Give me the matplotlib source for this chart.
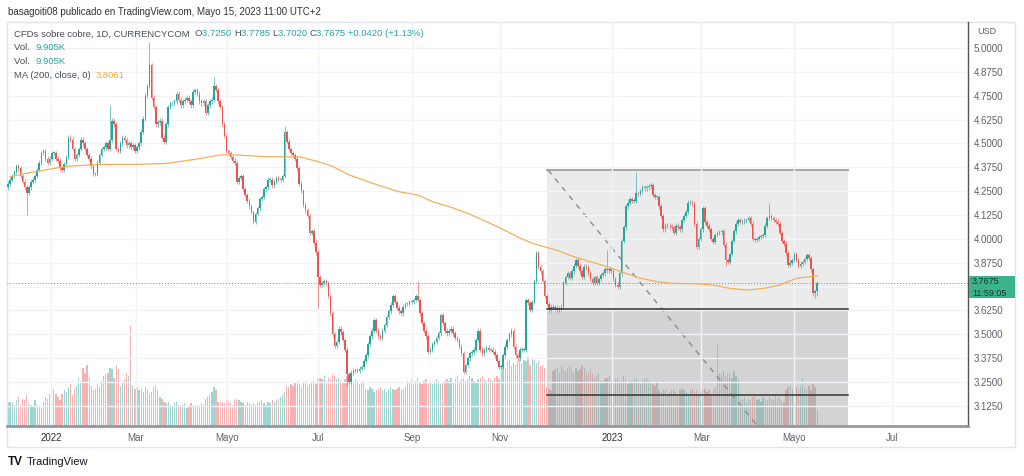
import numpy as np
import matplotlib
matplotlib.use("Agg")
import matplotlib.pyplot as plt
from matplotlib.patches import Rectangle

# daily closes, copper CFD (bar index 0 = early Dec 2021)
closes = [
    4.29, 4.31, 4.33, 4.35, 4.38, 4.37, 4.33, 4.30, 4.27, 4.24,
    4.27, 4.30, 4.31, 4.33, 4.36, 4.40, 4.45, 4.46, 4.42, 4.40,
    4.42, 4.45, 4.45, 4.42, 4.41, 4.37, 4.36, 4.39, 4.43, 4.53,
    4.52, 4.47, 4.42, 4.44, 4.47, 4.52, 4.50, 4.47, 4.44, 4.42,
    4.38, 4.34, 4.34, 4.40, 4.44, 4.47, 4.48, 4.50, 4.47, 4.52,
    4.62, 4.60, 4.47, 4.46, 4.50, 4.53, 4.52, 4.49, 4.50, 4.48,
    4.49, 4.46, 4.48, 4.50, 4.56, 4.63, 4.75, 4.80, 4.91, 4.74,
    4.69, 4.60, 4.61, 4.62, 4.53, 4.51, 4.60, 4.69, 4.71, 4.71,
    4.72, 4.76, 4.73, 4.70, 4.72, 4.73, 4.74, 4.72, 4.70, 4.77,
    4.78, 4.76, 4.72, 4.71, 4.72, 4.66, 4.70, 4.72, 4.73, 4.80,
    4.78, 4.72, 4.69, 4.60, 4.54, 4.46, 4.45, 4.43, 4.41, 4.40,
    4.30, 4.32, 4.33, 4.26, 4.23, 4.20, 4.17, 4.14, 4.09, 4.13,
    4.16, 4.21, 4.22, 4.26, 4.27, 4.31, 4.31, 4.28, 4.30, 4.32,
    4.31, 4.31, 4.33, 4.56, 4.51, 4.47, 4.45, 4.44, 4.42, 4.37,
    4.29, 4.25, 4.18, 4.15, 4.12, 4.03, 4.04, 3.98, 3.93, 3.80,
    3.76, 3.77, 3.78, 3.77, 3.70, 3.61, 3.50, 3.44, 3.46, 3.53,
    3.51, 3.47, 3.42, 3.29, 3.25, 3.30, 3.31, 3.31, 3.31, 3.32,
    3.33, 3.36, 3.39, 3.45, 3.49, 3.52, 3.575, 3.52, 3.49, 3.48,
    3.52, 3.55, 3.59, 3.62, 3.655, 3.70, 3.67, 3.64, 3.62, 3.61,
    3.645, 3.66, 3.66, 3.67, 3.67, 3.68, 3.70, 3.68, 3.61, 3.56,
    3.52, 3.49, 3.41, 3.42, 3.45, 3.46, 3.48, 3.505, 3.60, 3.56,
    3.52, 3.505, 3.52, 3.53, 3.505, 3.48, 3.47, 3.435, 3.40, 3.305,
    3.34, 3.375, 3.40, 3.41, 3.42, 3.47, 3.52, 3.42, 3.40, 3.42,
    3.43, 3.42, 3.42, 3.41, 3.39, 3.36, 3.33, 3.33, 3.39, 3.435,
    3.47, 3.50, 3.52, 3.435, 3.39, 3.375, 3.42, 3.42, 3.42, 3.68,
    3.665, 3.63, 3.67, 3.78, 3.925, 3.855, 3.83, 3.78, 3.70, 3.66,
    3.63, 3.645, 3.64, 3.64, 3.63, 3.635, 3.645, 3.77, 3.80, 3.82,
    3.795, 3.83, 3.86, 3.89, 3.86, 3.83, 3.80, 3.855, 3.85, 3.82,
    3.79, 3.77, 3.80, 3.77, 3.79, 3.81, 3.82, 3.84, 3.835, 3.84,
    3.83, 3.79, 3.76, 3.75, 3.82, 3.99, 4.06, 4.17, 4.19, 4.21,
    4.20, 4.20, 4.24, 4.235, 4.25, 4.27, 4.265, 4.27, 4.275, 4.28,
    4.23, 4.22, 4.22, 4.17, 4.12, 4.05, 4.07, 4.07, 4.065, 4.06,
    4.03, 4.07, 4.06, 4.05, 4.10, 4.12, 4.14, 4.19, 4.19, 4.185,
    4.08, 3.96, 4.00, 4.05, 4.16, 4.09, 4.07, 4.05, 4.00, 3.985,
    4.02, 4.03, 4.035, 4.04, 3.97, 3.89, 3.88, 3.92, 3.99, 4.04,
    4.08, 4.10, 4.09, 4.09, 4.095, 4.10, 4.11, 4.08, 4.00, 3.995,
    4.00, 4.01, 4.015, 4.02, 4.07, 4.11, 4.12, 4.11, 4.10, 4.09,
    4.08, 4.03, 3.99, 3.975, 3.925, 3.865, 3.875, 3.89, 3.92, 3.89,
    3.86, 3.87, 3.88, 3.895, 3.915, 3.90, 3.84, 3.715, 3.725, 3.7675,
]
first_open = 4.27
last_ohlc = (3.7250, 3.7785, 3.7020, 3.7675)

# longer wicks that stand out
wick_hi = {49: 4.70, 68: 5.03, 99: 4.85, 133: 4.59, 197: 3.78, 288: 3.94, 302: 4.35, 366: 4.19}
wick_lo = {9: 4.125, 149: 3.64, 163: 3.23, 345: 3.86, 388: 3.69}

# volume in thousands
volume = (
    [15, 15, 14, 13, 16, 18, 13, 17, 16, 19, 14, 13, 12, 16, 13, 12, 11, 15, 18]
    + [17, 20, 19, 23, 20, 18, 16, 20, 22, 21, 24, 26, 19, 23, 25, 30, 28]
    + [36, 33, 38, 30, 25, 22, 23, 26, 24]
    + [28, 31, 32, 33, 36, 35, 30, 38, 35, 25, 27, 29, 33, 31]
    + [62]
    + [25, 23, 24, 22, 23, 21, 24, 22, 20, 21, 24, 25, 22, 18, 17, 15]
    + [14, 15, 13, 12, 14, 15, 13, 12, 13, 14, 11, 12, 14, 13, 12, 13, 12, 14, 13]
    + [17, 18, 19, 21, 24, 22, 15]
    + [14, 15, 14, 16, 15, 14, 13, 16, 17, 16, 15, 14, 13, 15, 14, 13,
       14, 13, 14, 15, 16, 14, 13, 15, 14, 16, 15, 16, 17, 18, 19, 21]
    + [25, 24, 26, 25, 27, 28, 26, 24, 27, 28, 25, 26, 27, 28, 26, 30]
    + [30, 29, 31, 28, 30, 29, 32, 31, 29, 30, 28, 27, 29, 31, 30, 28, 27, 29, 28, 26, 27, 28]
    + [23, 22, 24, 23, 21, 22, 23, 24, 22, 23, 21, 22, 24, 23, 22, 23, 24, 22, 23, 24]
    + [28, 27, 29, 26, 28, 30, 27, 26, 28, 29, 27, 28, 26, 27, 29, 28, 26, 27, 28]
    + [29, 28, 30, 27, 29, 31, 28, 29, 30, 28, 29, 31, 30, 28, 27, 29,
       30, 31, 29, 28, 30, 29, 28, 30, 31, 29]
    + [38, 39, 36, 40, 41, 37, 39, 38, 40, 42, 39, 41]
    + [40, 43, 38, 42, 41, 39, 40, 37, 38, 36]
    + [24, 23, 22]
    + [34, 35, 36, 33, 37, 35, 34, 36, 37, 35, 33, 36, 34, 35, 37, 36, 34, 33, 35, 32, 30, 31, 33]
    + [28, 27, 29, 30, 31, 28, 26, 29, 30, 27, 28, 31, 29, 26, 27, 28,
       30, 29, 27, 26, 28, 29, 30, 28, 27, 26, 25, 27]
    + [22, 21, 23, 22, 20, 21, 22, 23, 21, 20, 22, 23, 22, 21, 20, 22,
       23, 21, 22, 20, 21, 22, 23, 21, 22, 20, 23, 24]
    + [50]
    + [33, 32, 34, 31, 33, 32, 30, 34, 31, 29]
    + [17, 16, 18, 15, 17, 16, 18, 19, 16, 17, 15, 18, 17, 16, 18, 17, 16, 19, 17, 18, 16, 15]
    + [22, 24, 25, 23, 26, 24, 22, 25, 30, 24, 23, 25, 22, 26, 24]
    + [9.905]
)

# 200 day MA, sampled along the orange line (bar index, value)
ma_idx = [1, 12, 28, 44, 60, 76, 92, 102, 108, 125, 140, 149, 156, 164, 173, 180, 188,
          197, 204, 213, 221, 228, 237, 245, 252, 264, 272, 280, 288, 296, 304, 312,
          320, 331, 339, 347, 355, 363, 371, 379, 389]
ma_val = [4.326, 4.35, 4.38, 4.39, 4.39, 4.395, 4.42, 4.44, 4.44, 4.43, 4.43, 4.405,
          4.38, 4.335, 4.30, 4.274, 4.247, 4.23, 4.195, 4.165, 4.134, 4.10, 4.055,
          4.01, 3.977, 3.94, 3.907, 3.88, 3.855, 3.823, 3.794, 3.776, 3.767, 3.765,
          3.758, 3.741, 3.732, 3.74, 3.758, 3.794, 3.8061]

date_pos = [20.7, 61.5, 105.3, 149, 194.2, 236.5, 290.4, 333.2, 377.9, 425]
date_lab = ["2022", "Mar", "Mayo", "Jul", "Sep", "Nov", "2023", "Mar", "Mayo", "Jul"]
price_ticks = [3.125, 3.25, 3.375, 3.5, 3.625, 3.75, 3.875, 4.0, 4.125, 4.25,
               4.375, 4.5, 4.625, 4.75, 4.875, 5.0]

# drawing tool: projection box and lines
box_x = (259.1, 403.8)
box_top, box_mid, box_low = 4.361, 3.633, 3.182
diag = ((259.6, 4.361), (360, 3.025))

W, H = 1024, 476
UP, DN = "#26a69a", "#ef5350"
GRID = "#f0f3fa"
TXT = "#5d606b"

plt.rcParams["font.family"] = ["Liberation Sans", "DejaVu Sans"]
fig = plt.figure(figsize=(W / 100, H / 100), dpi=100)
fig.patch.set_facecolor("white")

pos = [7 / W, 50 / H, 961 / W, 404 / H]
axv = fig.add_axes(pos)
ax = fig.add_axes(pos, sharex=axv)
ax.set_zorder(2)
ax.patch.set_visible(False)

n = len(closes)
x = np.arange(n)
c = np.array(closes)
o = np.array([first_open] + closes[:-1])
o[-1] = last_ohlc[0]
hi = np.maximum(o, c) + 0.012
lo = np.minimum(o, c) - 0.012
for k, v in wick_hi.items():
    hi[k] = v
for k, v in wick_lo.items():
    lo[k] = v
hi[-1], lo[-1] = last_ohlc[1], last_ohlc[2]
up = c >= o
cols = np.where(up, UP, DN)

# volume pane
axv.bar(x, volume, width=0.62, color=cols, alpha=0.45, linewidth=0)
axv.set_ylim(0, 250)
axv.set_xlim(-0.5, 461.5)
axv.axis("off")

# projection box
ax.add_patch(Rectangle((box_x[0], box_mid), box_x[1] - box_x[0], box_top - box_mid,
                       facecolor="#9e9e9e", alpha=0.2, lw=0, zorder=0.5))
ax.add_patch(Rectangle((box_x[0], 3.0), box_x[1] - box_x[0], box_mid - 3.0,
                       facecolor="#9e9e9e", alpha=0.45, lw=0, zorder=0.5))
ax.plot(box_x, [box_top, box_top], color="#a8a8a8", lw=1.5, zorder=1)
ax.plot(box_x, [box_mid, box_mid], color="#333333", lw=1.1, zorder=4)
ax.plot(box_x, [box_low, box_low], color="#333333", lw=1.1, zorder=4)
ax.plot([diag[0][0], diag[1][0]], [diag[0][1], diag[1][1]], color="#8a8a8a",
        lw=1, ls=(0, (4, 4)), zorder=1)

# candles
ax.vlines(x, lo, hi, colors=cols, lw=0.6, alpha=0.7, zorder=2)
body = np.maximum(np.abs(c - o), 0.004)
ax.bar(x, body, bottom=np.minimum(o, c), width=0.75, color=cols, linewidth=0, zorder=3)

ax.plot(ma_idx, ma_val, color="#f2b05a", lw=0.9, zorder=3.5)
ax.axhline(last_ohlc[3], color=UP, lw=0.7, ls=(0, (1, 2)), zorder=3)

ax.set_xlim(-0.5, 461.5)
ax.set_ylim(3.020, 5.136)
ax.set_yticks(price_ticks)
# the 3.7500 label sits under the last-price tag
ax.set_yticklabels(["" if p == 3.75 else f"{p:.4f}" for p in price_ticks])
ax.yaxis.tick_right()
ax.set_xticks(date_pos)
ax.set_xticklabels(date_lab)
for t in ax.get_xticklabels():
    if t.get_text() in ("2022", "2023"):
        t.set_color("#2a2e39")
    else:
        t.set_color(TXT)
ax.tick_params(axis="both", length=0, labelsize=7)
ax.tick_params(axis="y", pad=4, colors=TXT)
ax.tick_params(axis="x", pad=5)
ax.grid(True, color=GRID, lw=1, zorder=0)
for s in ("top", "left"):
    ax.spines[s].set_visible(False)
ax.spines["bottom"].set_color("#9598a1")
ax.spines["bottom"].set_linewidth(2)
ax.spines["right"].set_color("#50535e")
ax.spines["right"].set_linewidth(1)

# outer frame
fig.patches.append(Rectangle((7 / W, 1 - 447 / H), 1008 / W, 425 / H, transform=fig.transFigure,
                             fill=False, edgecolor="#e0e3eb", lw=1))

# last price label
fig.patches.append(Rectangle((969 / W, 1 - 298 / H), 46 / W, 22 / H, transform=fig.transFigure,
                             facecolor="#3bb38c", edgecolor="none", zorder=5))
fig.text(972 / W, 1 - 282 / H, "3.7675", fontsize=6.5, color="#1d3329", va="center", zorder=6)
fig.text(972 / W, 1 - 293 / H, "11:59:05", fontsize=6.5, color="#1d3329", va="center", zorder=6)
fig.text(977 / W, 1 - 32 / H, "USD", fontsize=6.5, color=TXT, va="center")

renderer = fig.canvas.get_renderer()


def chain(px, py, parts, size):
    for s, col in parts:
        t = fig.text(px / W, 1 - py / H, s, color=col, fontsize=size, va="center", ha="left")
        px += t.get_window_extent(renderer=renderer).width


GR = "#4a4e59"
chain(8, 12, [("basagoiti08 publicado en TradingView.com, Mayo 15, 2023 11:00 UTC+2", "#333333")], 7)
chain(14, 34, [("CFDs sobre cobre, 1D, CURRENCYCOM  ", GR), ("O", GR), ("3.7250 ", UP),
               ("H", GR), ("3.7785 ", UP), ("L", GR), ("3.7020 ", UP), ("C", GR),
               ("3.7675 ", UP), ("+0.0420 (+1.13%)", UP)], 6.8)
chain(14, 47, [("Vol.  ", GR), ("9.905K", UP)], 6.8)
chain(14, 61, [("Vol.  ", GR), ("9.905K", UP)], 6.8)
chain(14, 75, [("MA (200, close, 0)  ", GR), ("3.8061", "#f2a93b")], 6.8)

fig.text(8 / W, 1 - 462 / H, "TV", fontsize=8.5, fontweight="bold", color="#131722", va="center")
fig.text(27 / W, 1 - 462 / H, "TradingView", fontsize=8, color="#131722", va="center")

fig.savefig("out.png", dpi=100, facecolor="white")
